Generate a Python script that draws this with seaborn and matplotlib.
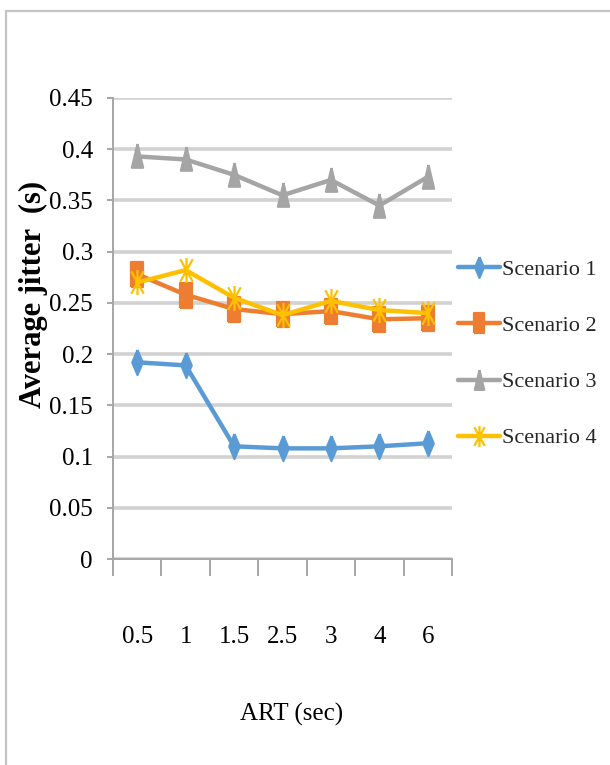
import matplotlib
matplotlib.use("Agg")
import matplotlib.pyplot as plt
from matplotlib.path import Path
from matplotlib.lines import Line2D
import seaborn as sns
import pandas as pd

# ---- data ----
art_labels = ["0.5", "1", "1.5", "2.5", "3", "4", "6"]
scenario_names = ["Scenario 1", "Scenario 2", "Scenario 3", "Scenario 4"]
scenario_1 = [0.192, 0.189, 0.110, 0.108, 0.108, 0.110, 0.113]
scenario_2 = [0.278, 0.258, 0.244, 0.239, 0.242, 0.234, 0.235]
scenario_3 = [0.393, 0.390, 0.375, 0.355, 0.370, 0.345, 0.373]
scenario_4 = [0.270, 0.282, 0.255, 0.238, 0.252, 0.243, 0.240]
y_ticks = [0, 0.05, 0.1, 0.15, 0.2, 0.25, 0.3, 0.35, 0.4, 0.45]
y_tick_labels = ["0", "0.05", "0.1", "0.15", "0.2", "0.25", "0.3", "0.35", "0.4", "0.45"]

series = [scenario_1, scenario_2, scenario_3, scenario_4]
df = pd.DataFrame({
    "ART": art_labels * len(series),
    "jitter": [v for s in series for v in s],
    "Scenario": [n for n in scenario_names for _ in art_labels],
})

# ---- styling ----
sns.set_theme(style="white")
plt.rcParams["font.family"] = ["Liberation Serif", "DejaVu Serif"]

colors = {"Scenario 1": "#5B9BD5", "Scenario 2": "#ED7D31",
          "Scenario 3": "#A5A5A5", "Scenario 4": "#FFC000"}

# tall, narrow marker shapes
diamond = Path([(0, 1), (0.42, 0), (0, -1), (-0.42, 0), (0, 1)])
rect = Path([(-0.45, -1), (0.45, -1), (0.45, 1), (-0.45, 1), (-0.45, -1)])
tri = Path([(0, 1), (0.45, -0.9), (-0.45, -0.9), (0, 1)])
star = Path([(-0.5, -0.9), (0.5, 0.9), (-0.5, 0.9), (0.5, -0.9), (0, -1), (0, 1)],
            [Path.MOVETO, Path.LINETO, Path.MOVETO, Path.LINETO, Path.MOVETO, Path.LINETO])
markers = {"Scenario 1": diamond, "Scenario 2": rect,
           "Scenario 3": tri, "Scenario 4": star}

fig = plt.figure(figsize=(6.10, 7.65), dpi=100)
ax = fig.add_axes([113 / 610, 1 - 559 / 765, 339 / 610, 461 / 765])

for name in scenario_names:
    sub = df[df["Scenario"] == name]
    sns.lineplot(data=sub, x="ART", y="jitter", ax=ax, sort=False,
                 color=colors[name], linewidth=3.2, label=name,
                 marker=markers[name], markersize=18,
                 markeredgecolor=colors[name], markeredgewidth=1.6,
                 markerfacecolor=colors[name], zorder=3)

# ---- axes ----
ax.set_xlim(-0.5, len(art_labels) - 0.5)
ax.set_ylim(0, 0.45)
ax.set_yticks(y_ticks)
ax.set_yticklabels(y_tick_labels)

# category boundaries carry the tick marks, labels sit at category centres
ax.set_xticks([i - 0.5 for i in range(len(art_labels) + 1)])
ax.set_xticklabels([])
ax.set_xticks(range(len(art_labels)), minor=True)
ax.set_xticklabels(art_labels, minor=True)
ax.tick_params(axis="x", which="major", length=12, width=1.4, color="#A6A6A6",
               direction="out", bottom=True)
ax.tick_params(axis="x", which="minor", length=0, pad=48, labelsize=18,
               labelcolor="black", bottom=True)
ax.tick_params(axis="y", which="major", length=4.5, width=1.4, color="#A6A6A6",
               direction="out", left=True, pad=10, labelsize=18, labelcolor="black")

ax.yaxis.grid(True, color="#D2D2D2", linewidth=2.6)
ax.xaxis.grid(False)
ax.set_axisbelow(True)
for side in ("top", "right"):
    ax.spines[side].set_visible(False)
for side in ("left", "bottom"):
    ax.spines[side].set_color("#A6A6A6")
    ax.spines[side].set_linewidth(1.4)

ax.set_xlabel("ART (sec)", fontsize=18, color="black")
ax.xaxis.set_label_coords((292 - 113) / 339, (559 - 703) / 461)
ax.set_ylabel("Average jitter  (s)", fontsize=22, fontweight="bold", color="black")
ax.yaxis.set_label_coords((48 - 113) / 339, (559 - 294) / 461)

leg = ax.legend(loc="center left", bbox_to_anchor=(458 / 610, 1 - 354 / 765),
                bbox_transform=fig.transFigure, frameon=False, fontsize=16,
                handlelength=1.9, handletextpad=0.1, labelspacing=1.6,
                borderpad=0, borderaxespad=0)
for h in leg.legend_handles:
    h.set_markersize(15)

# outer chart frame (left and top edges)
fig.add_artist(Line2D([5.5 / 610, 5.5 / 610], [0, 1 - 11 / 765],
                      transform=fig.transFigure, color="#C4C4C4", linewidth=1.6))
fig.add_artist(Line2D([5.5 / 610, 1], [1 - 11 / 765, 1 - 11 / 765],
                      transform=fig.transFigure, color="#C4C4C4", linewidth=1.6))

fig.savefig("out.png", dpi=100, facecolor="white")
